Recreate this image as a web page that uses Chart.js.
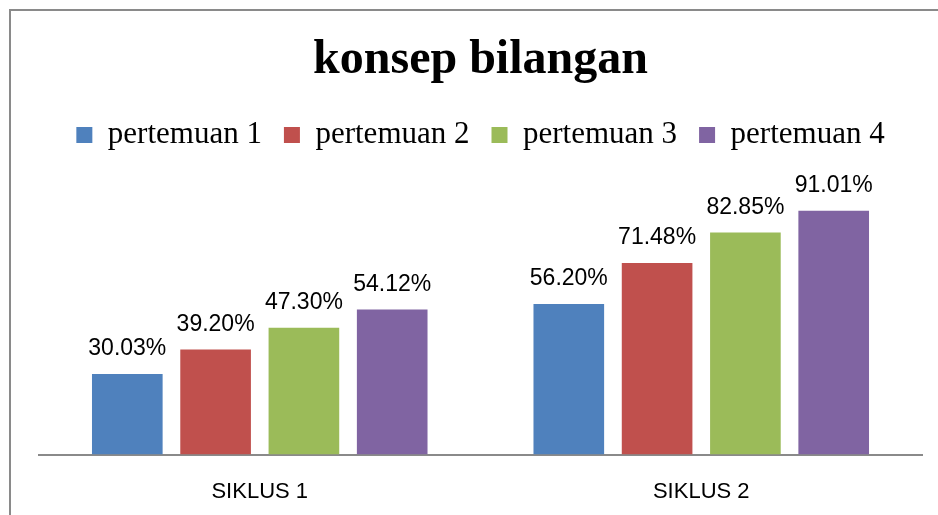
<!DOCTYPE html>
<html>
<head>
<meta charset="utf-8">
<script src="https://cdn.jsdelivr.net/npm/chart.js@4.4.1/dist/chart.umd.min.js"></script>
<style>
  html, body { margin: 0; padding: 0; background: #fff; overflow: hidden; width: 938px; height: 515px; }
  #frame { position: absolute; left: 9px; top: 9px; width: 940px; height: 530px; border: 2px solid #8a8a8a; background: #fff; }
  #wrap { position: absolute; left: 0; top: 0; width: 940px; height: 519px; }
</style>
</head>
<body>
<div id="frame"><div id="wrap"><canvas id="c"></canvas></div></div>
<script>
const categories = ["SIKLUS 1", "SIKLUS 2"];
const seriesNames = ["pertemuan 1", "pertemuan 2", "pertemuan 3", "pertemuan 4"];
const pertemuan1 = [30.03, 56.20];
const pertemuan2 = [39.20, 71.48];
const pertemuan3 = [47.30, 82.85];
const pertemuan4 = [54.12, 91.01];
const seriesColors = ["#4F81BD", "#C0504D", "#9BBB59", "#8064A2"];
const titleText = "konsep bilangan";

const seriesValues = [pertemuan1, pertemuan2, pertemuan3, pertemuan4];

const labelPlugin = {
  id: 'valueLabels',
  afterDatasetsDraw(chart) {
    const ctx = chart.ctx;
    ctx.save();
    ctx.font = '23px "Liberation Sans", Arial, sans-serif';
    ctx.fillStyle = '#000';
    ctx.textAlign = 'center';
    ctx.textBaseline = 'alphabetic';
    chart.data.datasets.forEach((ds, di) => {
      const meta = chart.getDatasetMeta(di);
      meta.data.forEach((bar, i) => {
        ctx.fillText(ds.data[i].toFixed(2) + '%', bar.x, bar.y - 19);
      });
    });
    ctx.restore();
  }
};

const legendGap = {
  id: 'legendGap',
  beforeInit(chart) {
    const origFit = chart.legend.fit;
    chart.legend.fit = function () {
      origFit.bind(chart.legend)();
      this.height += 26;
    };
  }
};

new Chart(document.getElementById('c'), {
  type: 'bar',
  data: {
    labels: categories,
    datasets: seriesNames.map((n, i) => ({
      label: n,
      data: seriesValues[i],
      backgroundColor: seriesColors[i],
      borderWidth: 0,
      categoryPercentage: 0.8,
      barPercentage: 0.8
    }))
  },
  options: {
    responsive: true,
    maintainAspectRatio: false,
    animation: false,
    layout: { padding: { left: 28, right: 29, top: 0, bottom: 1 } },
    plugins: {
      title: {
        display: true,
        text: titleText,
        color: '#000',
        font: { family: '"Liberation Serif", "Times New Roman", serif', size: 48, weight: 'bold' },
        padding: { top: 21, bottom: 8 }
      },
      legend: {
        display: true,
        position: 'top',
        labels: {
          color: '#000',
          font: { family: '"Liberation Serif", "Times New Roman", serif', size: 31 },
          boxWidth: 16,
          boxHeight: 16,
          padding: 22
        }
      },
      tooltip: { enabled: false }
    },
    scales: {
      x: {
        grid: { display: false, drawTicks: false },
        border: { display: true, color: '#8a8a8a', width: 2 },
        ticks: { color: '#000', font: { family: '"Liberation Sans", Arial, sans-serif', size: 22 }, padding: 24 }
      },
      y: {
        display: false,
        min: 0,
        max: 100
      }
    }
  },
  plugins: [labelPlugin, legendGap]
});
</script>
</body>
</html>
